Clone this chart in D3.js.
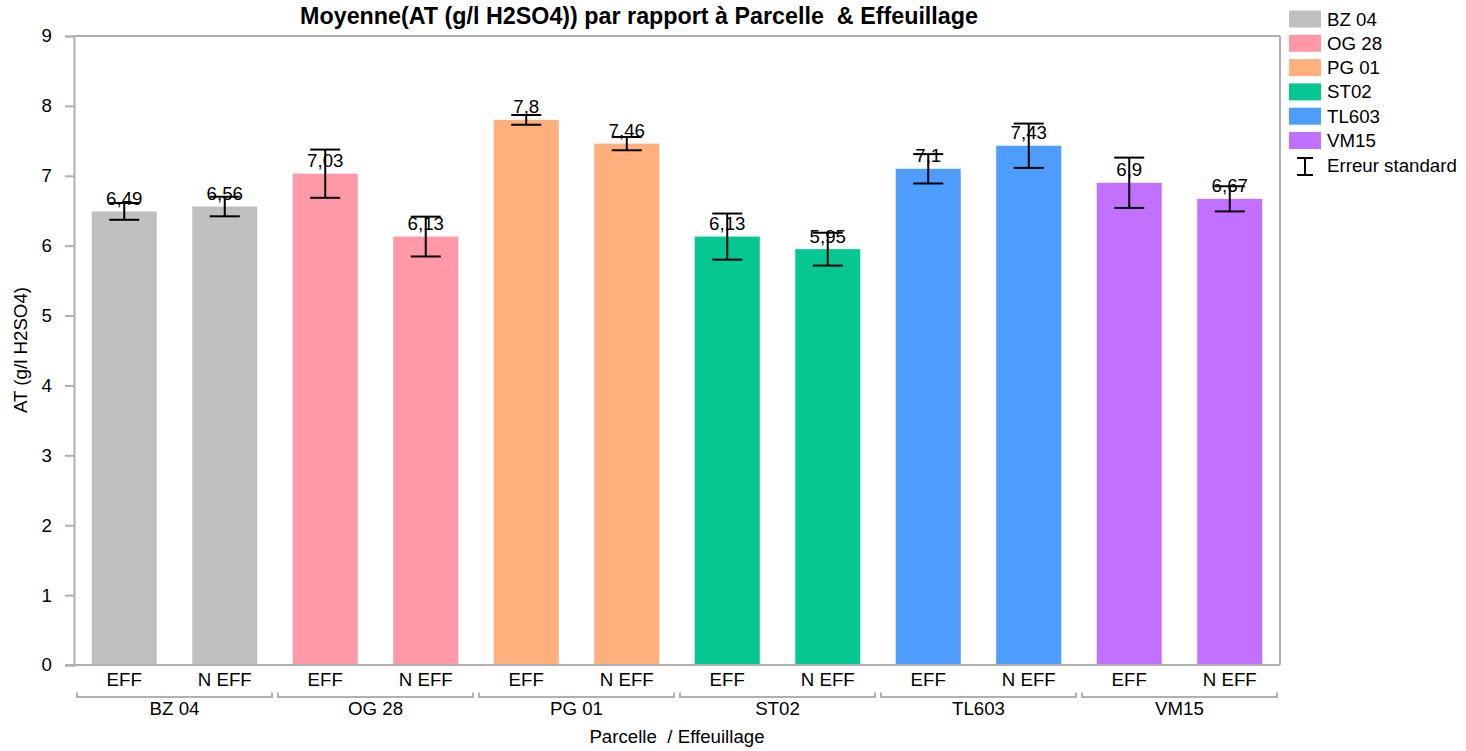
<!DOCTYPE html>
<html><head><meta charset="utf-8">
<script src="https://cdn.jsdelivr.net/npm/d3@7/dist/d3.min.js"></script>
<style>body{margin:0;background:#fff}text{font-family:"Liberation Sans",Arial,sans-serif;white-space:pre}</style>
</head><body>
<svg id="c" width="1466" height="751"></svg>
<script>
const parcelles = ["BZ 04","OG 28","PG 01","ST02","TL603","VM15"];
const effeuillage = ["EFF","N EFF"];
const colors = ["#c0c0c0","#ff99a7","#ffb07c","#06c691","#4f9cff","#c170ff"];
const means = [6.49,6.56, 7.03,6.13, 7.8,7.46, 6.13,5.95, 7.1,7.43, 6.9,6.67];
const labels = ["6,49","6,56","7,03","6,13","7,8","7,46","6,13","5,95","7,1","7,43","6,9","6,67"];
const stdErr = [0.12,0.14, 0.345,0.285, 0.07,0.095, 0.33,0.235, 0.21,0.317, 0.36,0.18];
const yTicks = [0,1,2,3,4,5,6,7,8,9];

const FS=18.7;
const svg = d3.select("#c");
const L=74,R=1280,T=36,B=665;
const axisCol="#b0b0b0";
const keys=[];
parcelles.forEach(p=>effeuillage.forEach(e=>keys.push(p+"|"+e)));
const x=d3.scaleBand().domain(keys).range([L,R]).paddingInner(0.353).paddingOuter(0.1765);
const y=d3.scaleLinear().domain([0,9]).range([B,T]);

// frame
svg.append("line").attr("x1",L).attr("x2",R).attr("y1",T).attr("y2",T).attr("stroke",axisCol).attr("stroke-width",2);
svg.append("line").attr("x1",R).attr("x2",R).attr("y1",T).attr("y2",B).attr("stroke",axisCol).attr("stroke-width",2);

// y axis
const ya=svg.append("g").attr("transform",`translate(${L},0)`).call(d3.axisLeft(y).tickValues(yTicks).tickSize(9).tickPadding(13).tickFormat(d=>d));
ya.selectAll("path").attr("stroke",axisCol).attr("stroke-width",2);
ya.selectAll("line").attr("stroke",axisCol).attr("stroke-width",2);
ya.selectAll("text").attr("font-size",FS).attr("fill","#000").attr("font-family","Liberation Sans, Arial, sans-serif");

// bars
const data=keys.map((k,i)=>({k,i,g:Math.floor(i/2),m:means[i],se:stdErr[i],lab:labels[i]}));
svg.append("g").selectAll("rect").data(data).join("rect")
 .attr("x",d=>x(d.k)).attr("width",x.bandwidth())
 .attr("y",d=>y(d.m)).attr("height",d=>B-y(d.m)).attr("fill",d=>colors[d.g]);

// x axis line
svg.append("line").attr("x1",L-9).attr("x2",R).attr("y1",B).attr("y2",B).attr("stroke",axisCol).attr("stroke-width",2);

// value labels
svg.append("g").selectAll("text").data(data).join("text")
 .attr("x",d=>x(d.k)+x.bandwidth()/2).attr("y",d=>y(d.m)-6.5)
 .attr("text-anchor","middle").attr("font-size",FS).text(d=>d.lab);

// error bars
const eb=svg.append("g").attr("stroke","#000").attr("stroke-width",2);
data.forEach(d=>{
  const cx=x(d.k)+x.bandwidth()/2;
  const y1=y(d.m+d.se), y2=y(d.m-d.se);
  eb.append("line").attr("x1",cx).attr("x2",cx).attr("y1",y1).attr("y2",y2);
  eb.append("line").attr("x1",cx-15).attr("x2",cx+15).attr("y1",y1).attr("y2",y1);
  eb.append("line").attr("x1",cx-15).attr("x2",cx+15).attr("y1",y2).attr("y2",y2);
});

// x tick labels
svg.append("g").selectAll("text").data(data).join("text")
 .attr("x",d=>x(d.k)+x.bandwidth()/2).attr("y",686)
 .attr("text-anchor","middle").attr("font-size",FS).text(d=>effeuillage[d.i%2]);

// group brackets
const gw=(R-L)/parcelles.length;
const br=svg.append("g");
parcelles.forEach((p,i)=>{
  const x0=L+i*gw+3, x1=L+(i+1)*gw-3;
  br.append("path").attr("d",`M${x0},692.5V697H${x1}V692.5`).attr("fill","none").attr("stroke",axisCol).attr("stroke-width",2);
  br.append("text").attr("x",(x0+x1)/2).attr("y",715).attr("text-anchor","middle").attr("font-size",FS).text(p);
});

// titles
svg.append("text").attr("x",639).attr("y",24).attr("text-anchor","middle").attr("font-size",23.3).attr("font-weight","bold").text("Moyenne(AT (g/l H2SO4)) par rapport à Parcelle  & Effeuillage");
svg.append("text").attr("x",677).attr("y",743).attr("text-anchor","middle").attr("font-size",FS).text("Parcelle  / Effeuillage");
svg.append("text").attr("transform","translate(27,350) rotate(-90)").attr("text-anchor","middle").attr("font-size",FS).text("AT (g/l H2SO4)");

// legend
const lg=svg.append("g");
parcelles.forEach((p,i)=>{
  const ty=10.5+i*24.3;
  lg.append("rect").attr("x",1289).attr("y",ty).attr("width",32).attr("height",17).attr("fill",colors[i]);
  lg.append("text").attr("x",1327).attr("y",ty+15).attr("font-size",FS).text(p);
});
const ey=166;
lg.append("path").attr("d",`M1297,${ey-8}H1313M1305,${ey-8}V${ey+9}M1297,${ey+9}H1313`).attr("stroke","#000").attr("stroke-width",2).attr("fill","none");
lg.append("text").attr("x",1327).attr("y",ey+6).attr("font-size",FS).text("Erreur standard");
</script>
</body></html>
